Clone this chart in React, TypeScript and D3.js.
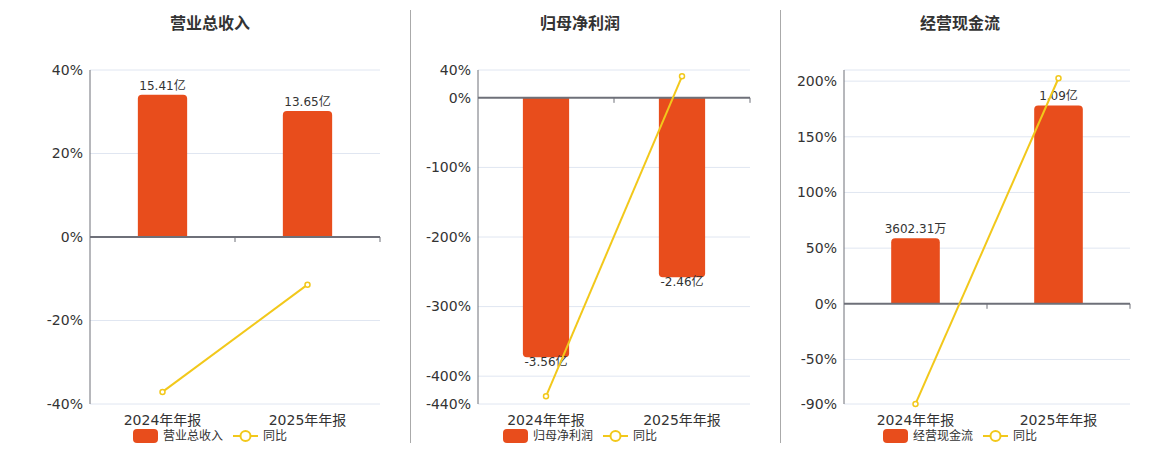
import React from 'react';
import * as d3 from 'd3';

const categories = ['2024年年报', '2025年年报'];

const revenueValues = [15.41, 13.65];
const revenueLabels = ['15.41亿', '13.65亿'];
const revenueYoy = [-37.1, -11.42];
const revenueTicks = [40, 20, 0, -20, -40];

const profitValues = [-3.56, -2.46];
const profitLabels = ['-3.56亿', '-2.46亿'];
const profitYoy = [-428.9, 30.9];
const profitTicks = [40, 0, -100, -200, -300, -400, -440];

const cashValues = [0.3602, 1.09];
const cashLabels = ['3602.31万', '1.09亿'];
const cashYoy = [-89.9, 202.6];
const cashTicks = [200, 150, 100, 50, 0, -50, -90];

const FONT = '"DejaVu Sans", "Noto Sans CJK SC", sans-serif';
const BAR = '#E84D1C';
const LINE = '#F2C81B';
const AXIS = '#6E7079';
const GRID = '#E0E6F1';
const TEXT = '#333';

interface PanelProps {
  title: string;
  seriesName: string;
  values: number[];
  labels: string[];
  yoy: number[];
  ticks: number[];
  pctDomain: [number, number];
  barDomain: [number, number];
  left: number;
  right: number;
  center: number;
}

const TOP = 70;
const BOTTOM = 404;

// bar with rounded corners on the end away from zero
function barPath(x: number, w: number, y0: number, y1: number, r: number) {
  const h = Math.abs(y1 - y0);
  const rr = Math.min(r, h, w / 2);
  if (y1 < y0) {
    return `M${x},${y0} L${x},${y1 + rr} Q${x},${y1} ${x + rr},${y1} L${x + w - rr},${y1} Q${x + w},${y1} ${x + w},${y1 + rr} L${x + w},${y0} Z`;
  }
  return `M${x},${y0} L${x},${y1 - rr} Q${x},${y1} ${x + rr},${y1} L${x + w - rr},${y1} Q${x + w},${y1} ${x + w},${y1 - rr} L${x + w},${y0} Z`;
}

const Panel: React.FC<PanelProps> = (p) => {
  const x = d3.scaleBand<string>().domain(categories).range([p.left, p.right]);
  const y = d3.scaleLinear().domain(p.pctDomain).range([BOTTOM, TOP]);
  const yBar = d3.scaleLinear().domain(p.barDomain).range([BOTTOM, TOP]);
  const zero = y(0);
  const bw = x.bandwidth() * 0.34;

  const line = d3.line<number>()
    .x((_, i) => (x(categories[i]) ?? 0) + x.bandwidth() / 2)
    .y(d => y(d));

  const gridVals = Array.from(new Set([p.pctDomain[1], ...p.ticks, p.pctDomain[0]])).filter(v => v !== 0);

  const nameW = p.seriesName.length * 12;
  const legendW = 25 + 5 + nameW + 10 + 25 + 5 + 24;
  const lx = p.center - legendW / 2;
  const ly = 436;

  return (
    <g fontFamily={FONT}>
      <text x={p.center} y={28.5} textAnchor="middle" fontSize={16} fontWeight="bold" fill={TEXT}>{p.title}</text>

      {gridVals.map(v => (
        <line key={v} x1={p.left} x2={p.right} y1={y(v)} y2={y(v)} stroke={GRID} strokeWidth={1} />
      ))}

      {p.ticks.map(v => (
        <text key={v} x={p.left - 7} y={y(v)} dy="0.35em" textAnchor="end" fontSize={14} fill={TEXT}>{v}%</text>
      ))}

      <line x1={p.left} x2={p.left} y1={TOP} y2={BOTTOM} stroke={AXIS} strokeWidth={1} />

      {p.values.map((v, i) => {
        const bx = (x(categories[i]) ?? 0) + (x.bandwidth() - bw) / 2;
        return <path key={i} d={barPath(bx, bw, zero, yBar(v), 4)} fill={BAR} />;
      })}

      <line x1={p.left} x2={p.right} y1={zero} y2={zero} stroke={AXIS} strokeWidth={2} />
      {categories.map((c, i) => {
        const tx = (x(c) ?? 0) + x.bandwidth();
        return <line key={i} x1={tx} x2={tx} y1={zero} y2={zero + 5} stroke={AXIS} strokeWidth={1} />;
      })}

      {p.values.map((v, i) => {
        const cx = (x(categories[i]) ?? 0) + x.bandwidth() / 2;
        const ty = v >= 0 ? yBar(v) - 5 : yBar(v) + 9;
        return <text key={i} x={cx} y={ty} textAnchor="middle" fontSize={12} fill={TEXT}>{p.labels[i]}</text>;
      })}

      {categories.map(c => (
        <text key={c} x={(x(c) ?? 0) + x.bandwidth() / 2} y={425} textAnchor="middle" fontSize={14} fill={TEXT}>{c}</text>
      ))}

      <path d={line(p.yoy) ?? ''} fill="none" stroke={LINE} strokeWidth={2} />
      {p.yoy.map((v, i) => (
        <circle key={i} cx={(x(categories[i]) ?? 0) + x.bandwidth() / 2} cy={y(v)} r={2.5} fill="#fff" stroke={LINE} strokeWidth={1.5} />
      ))}

      <rect x={lx} y={ly - 7} width={25} height={14} rx={4} fill={BAR} />
      <text x={lx + 30} y={ly} dy="0.35em" fontSize={12} fill={TEXT}>{p.seriesName}</text>
      <line x1={lx + 30 + nameW + 10} x2={lx + 30 + nameW + 35} y1={ly} y2={ly} stroke={LINE} strokeWidth={2} />
      <circle cx={lx + 30 + nameW + 22.5} cy={ly} r={5} fill="#fff" stroke={LINE} strokeWidth={2} />
      <text x={lx + 30 + nameW + 40} y={ly} dy="0.35em" fontSize={12} fill={TEXT}>同比</text>
    </g>
  );
};

const App: React.FC = () => (
  <svg width={1160} height={450} style={{ position: 'absolute', left: 0, top: 0, background: '#fff' }}>
    <Panel title="营业总收入" seriesName="营业总收入" values={revenueValues} labels={revenueLabels} yoy={revenueYoy}
      ticks={revenueTicks} pctDomain={[-40, 40]} barDomain={[-18.1, 18.1]} left={90} right={380} center={210} />
    <line x1={410.5} x2={410.5} y1={10} y2={443} stroke="#AAA" strokeWidth={1} />
    <Panel title="归母净利润" seriesName="归母净利润" values={profitValues} labels={profitLabels} yoy={profitYoy}
      ticks={profitTicks} pctDomain={[-440, 40]} barDomain={[-4.2, 0.382]} left={478} right={750} center={580} />
    <line x1={780.5} x2={780.5} y1={10} y2={443} stroke="#AAA" strokeWidth={1} />
    <Panel title="经营现金流" seriesName="经营现金流" values={cashValues} labels={cashLabels} yoy={cashYoy}
      ticks={cashTicks} pctDomain={[-90, 210]} barDomain={[-0.551, 1.285]} left={844} right={1130} center={960} />
  </svg>
);

export default App;
